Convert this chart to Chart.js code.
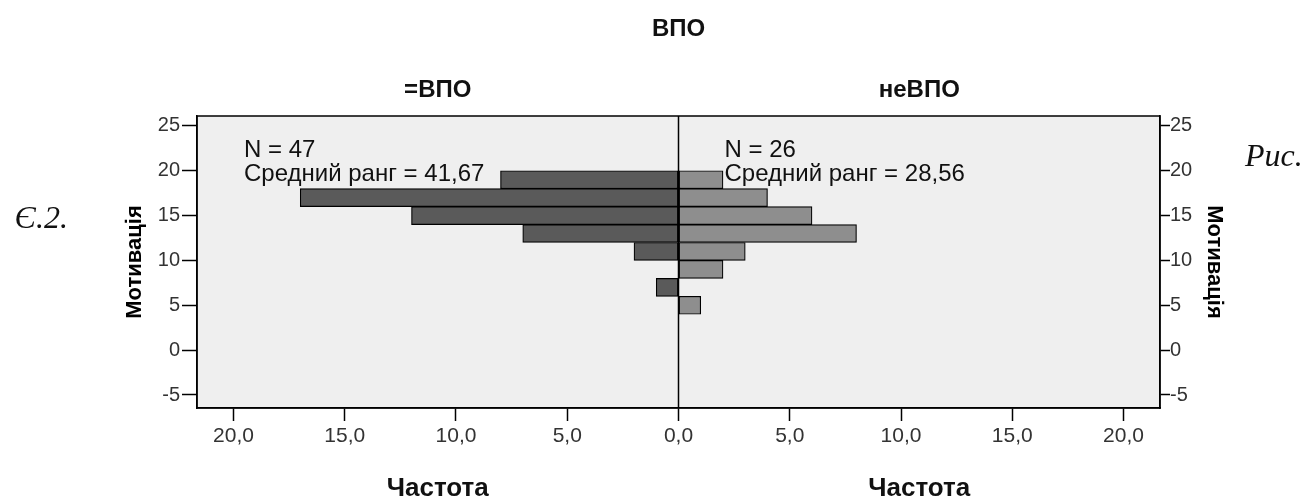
<!DOCTYPE html>
<html>
<head>
<meta charset="utf-8">
<title>ВПО</title>
<script src="https://cdn.jsdelivr.net/npm/chart.js@4.4.1/dist/chart.umd.min.js"></script>
<style>
  html, body { margin: 0; padding: 0; background: #fff; }
  #wrap { position: relative; width: 1312px; height: 501px; }
</style>
</head>
<body>
<div id="wrap"><canvas id="chart" width="1312" height="501"></canvas></div>
<script>
// Мотивація bins (centre of each 2-point bin)
const binCenters = [19, 17, 15, 13, 11, 9, 7, 5];
const countVPO = [8, 17, 12, 7, 2, 0, 1, 0];    // =ВПО
const countNeVPO = [2, 4, 6, 8, 3, 2, 0, 1];    // неВПО
const yTicks = [-5, 0, 5, 10, 15, 20, 25];
const xTicks = [-20, -15, -10, -5, 0, 5, 10, 15, 20];
const groupLabels = ["=ВПО", "неВПО"];
const groupN = [47, 26];
const meanRank = ["41,67", "28,56"];

const SANS = "'Liberation Sans', Arial, sans-serif";
const SERIF = "'Liberation Serif', 'Times New Roman', serif";

// keep only non-empty bins; left side drawn as negative values
const toPoints = (counts, sign) => binCenters
  .map((b, i) => ({ y: b, x: sign * counts[i] }))
  .filter(p => p.x !== 0);

const textPlugin = {
  id: 'texts',
  beforeDraw(chart) {
    const { ctx, chartArea: a } = chart;
    ctx.save();
    ctx.fillStyle = '#efefef';
    ctx.fillRect(a.left, a.top, a.right - a.left, a.bottom - a.top);
    ctx.restore();
  },
  afterDatasetsDraw(chart) {
    const { ctx, chartArea: a, scales: { x } } = chart;
    const x0 = x.getPixelForValue(0);
    const lc = (a.left + x0) / 2, rc = (x0 + a.right) / 2;
    ctx.save();
    ctx.strokeStyle = '#000';
    ctx.lineWidth = 1.5;
    ctx.beginPath();
    ctx.moveTo(x0, a.top);
    ctx.lineTo(x0, a.bottom);
    ctx.stroke();
    ctx.strokeRect(a.left, a.top, a.right - a.left, a.bottom - a.top);

    ctx.fillStyle = '#111';
    ctx.textBaseline = 'alphabetic';
    ctx.textAlign = 'center';
    ctx.font = `bold 24px ${SANS}`;
    ctx.fillText('ВПО', x0, 35.5);
    ctx.fillText(groupLabels[0], lc, 96.5);
    ctx.fillText(groupLabels[1], rc, 96.5);
    ctx.font = `bold 26px ${SANS}`;
    ctx.fillText('Частота', lc, 496);
    ctx.fillText('Частота', rc, 496);

    ctx.textAlign = 'left';
    ctx.font = `24px ${SANS}`;
    ctx.fillText(`N = ${groupN[0]}`, a.left + 47, 157);
    ctx.fillText(`Средний ранг = ${meanRank[0]}`, a.left + 47, 181);
    ctx.fillText(`N = ${groupN[1]}`, x0 + 46, 157);
    ctx.fillText(`Средний ранг = ${meanRank[1]}`, x0 + 46, 181);

    // surrounding document text
    ctx.font = `italic 32px ${SERIF}`;
    ctx.fillText('Рис.', 1245, 166);
    ctx.textAlign = 'right';
    ctx.fillText('Є.2.', 68, 228);
    ctx.restore();
  }
};

const yAxis = (position, tickLength, width) => ({
  type: 'linear',
  position,
  min: -6.45,
  max: 26.1,
  offset: false,
  afterBuildTicks: s => { s.ticks = yTicks.map(v => ({ value: v })); },
  afterFit: s => { s.width = width; },
  grid: { drawOnChartArea: false, drawTicks: true, tickLength, tickColor: '#000', tickWidth: 1.5, offset: false },
  border: { display: true, color: '#000', width: 1.5 },
  ticks: { color: '#333', padding: position === 'left' ? 2 : 0, font: { family: SANS, size: 20 } },
  title: { display: true, text: 'Мотивація', color: '#000', padding: { top: 4, bottom: 4 }, font: { family: SANS, size: 22, weight: 'bold' } }
});

new Chart(document.getElementById('chart'), {
  type: 'bar',
  data: {
    datasets: [
      { label: groupLabels[0], data: toPoints(countVPO, -1), backgroundColor: '#5a5a5a' },
      { label: groupLabels[1], data: toPoints(countNeVPO, 1), backgroundColor: '#8e8e8e' }
    ]
  },
  options: {
    indexAxis: 'y',
    responsive: false,
    animation: false,
    layout: { padding: { left: 118, right: 81, top: 116, bottom: 33 } },
    datasets: {
      bar: { grouped: false, barPercentage: 1, categoryPercentage: 1, borderColor: '#000', borderWidth: 1.2, borderSkipped: false }
    },
    plugins: { legend: { display: false }, tooltip: { enabled: false }, title: { display: false } },
    scales: {
      x: {
        type: 'linear',
        min: -21.64,
        max: 21.64,
        afterBuildTicks: s => { s.ticks = xTicks.map(v => ({ value: v })); },
        afterFit: s => { s.height = 60; },
        grid: { drawOnChartArea: false, drawTicks: true, tickLength: 13, tickColor: '#000', tickWidth: 1.5 },
        border: { display: true, color: '#000', width: 1.5 },
        ticks: {
          color: '#333',
          padding: 3,
          maxRotation: 0,
          font: { family: SANS, size: 21 },
          callback: v => Math.abs(v).toFixed(1).replace('.', ',')
        }
      },
      y: yAxis('left', 15, 79),
      y2: yAxis('right', 10, 71)
    }
  },
  plugins: [textPlugin]
});
</script>
</body>
</html>
